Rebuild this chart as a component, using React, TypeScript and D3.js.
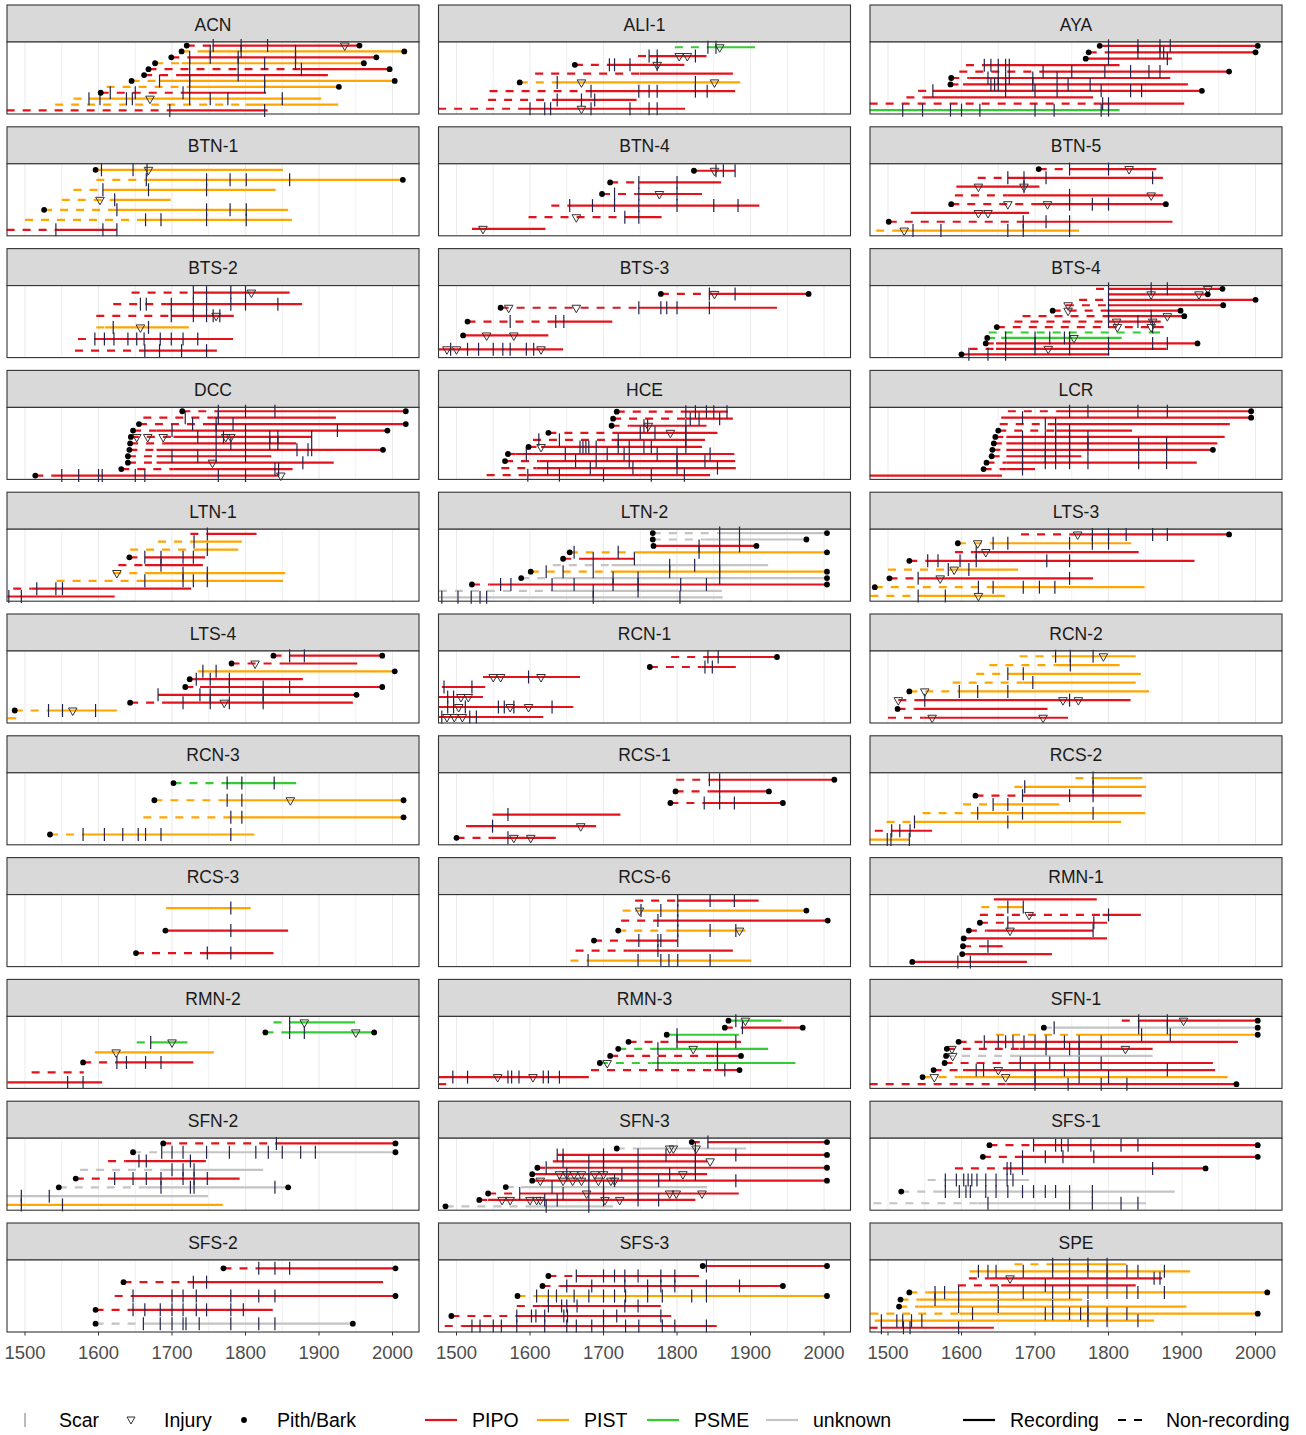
import * as d3 from "d3";

// row: [species, first, recStart, last, pith, bark, scars, injuries]
type Row = [string, number, number, number, number, number, number[], number[]];

const sites = ["ACN", "ALI-1", "AYA", "BTN-1", "BTN-4", "BTN-5", "BTS-2", "BTS-3", "BTS-4", "DCC", "HCE", "LCR",
    "LTN-1", "LTN-2", "LTS-3", "LTS-4", "RCN-1", "RCN-2", "RCN-3", "RCS-1", "RCS-2", "RCS-3", "RCS-6", "RMN-1",
    "RMN-2", "RMN-3", "SFN-1", "SFN-2", "SFN-3", "SFS-1", "SFS-2", "SFS-3", "SPE"];

const ACN: Row[] = [
    ["R", 1720, 1755, 1955, 1, 1, [1756, 1794, 1830], [1935]],
    ["O", 1713, 1738, 2016, 1, 1, [1752, 1794, 1868], []],
    ["R", 1699, 1724, 1978, 1, 1, [1724, 1752, 1790, 1868], []],
    ["O", 1677, 1713, 1961, 1, 1, [1724, 1790, 1826, 1868], []],
    ["R", 1668, 1876, 1996, 1, 1, [1876], []],
    ["R", 1662, 1711, 1912, 1, 0, [1724, 1790], []],
    ["O", 1645, 1683, 2003, 1, 1, [1683, 1724, 1826], []],
    ["O", 1611, 1720, 1927, 0, 1, [1724, 1826], []],
    ["R", 1603, 1715, 1828, 1, 0, [1616, 1650, 1715], []],
    ["O", 1566, 1587, 1903, 0, 0, [1587, 1602, 1638, 1646, 1724, 1752, 1776, 1850], [1670]],
    ["O", 1541, 1800, 1926, 0, 0, [], []],
    ["R", 1475, 1697, 1830, 0, 0, [1697, 1826], []],
];
const ALI1: Row[] = [
    ["G", 1797, 1842, 1906, 0, 0, [1842, 1853], [1858]],
    ["R", 1747, 1762, 1840, 0, 0, [1762, 1773, 1825], [1803, 1814]],
    ["R", 1661, 1708, 1810, 1, 0, [1708, 1715, 1736, 1773], [1773]],
    ["R", 1607, 1749, 1876, 0, 0, [], []],
    ["O", 1586, 1637, 1886, 1, 0, [1637, 1825], [1670, 1851]],
    ["R", 1545, 1683, 1879, 0, 0, [1683, 1748, 1762, 1773, 1825, 1841], []],
    ["R", 1543, 1637, 1745, 0, 0, [1637, 1670, 1688], []],
    ["R", 1475, 1593, 1811, 0, 0, [1600, 1620, 1628, 1683, 1736, 1762, 1773], [1670]],
];
const AYA: Row[] = [
    ["R", 1788, 1792, 2003, 1, 1, [1800, 1840, 1870, 1884], []],
    ["R", 1773, 1798, 2000, 1, 1, [1840, 1870, 1875], []],
    ["R", 1769, 1772, 1886, 1, 0, [1800, 1880], []],
    ["R", 1606, 1631, 1815, 0, 0, [1631, 1640, 1650, 1660, 1665], []],
    ["R", 1597, 1711, 1964, 0, 1, [1711, 1750, 1795, 1830, 1855, 1870], []],
    ["R", 1586, 1611, 1884, 1, 0, [1636, 1650, 1660, 1665, 1697, 1730], []],
    ["R", 1585, 1602, 1908, 1, 0, [1640, 1645, 1650, 1660, 1697, 1745, 1775], []],
    ["R", 1541, 1561, 1927, 0, 1, [1561, 1660, 1700, 1730, 1790, 1830, 1845], []],
    ["R", 1525, 1548, 1779, 0, 0, [], []],
    ["R", 1475, 1792, 1903, 0, 0, [1792, 1800], []],
    ["G", 1475, 1475, 1815, 0, 0, [1520, 1547, 1585, 1600, 1625, 1700, 1726, 1790, 1800], []],
];
const BTN1: Row[] = [
    ["O", 1596, 1596, 1851, 1, 0, [1604, 1647, 1666], [1668]],
    ["O", 1597, 1665, 2014, 0, 1, [1665, 1747, 1779, 1801, 1860], []],
    ["O", 1566, 1606, 1841, 0, 0, [1606, 1668, 1747], []],
    ["O", 1550, 1622, 1698, 0, 0, [1622], [1602]],
    ["O", 1526, 1625, 1858, 1, 0, [1625, 1747, 1779, 1801], []],
    ["O", 1500, 1664, 1863, 0, 0, [1664, 1685, 1747, 1801], []],
    ["R", 1475, 1542, 1625, 0, 0, [1542, 1606, 1625], []],
];
const BTN4: Row[] = [
    ["R", 1823, 1823, 1879, 1, 0, [1853, 1863, 1879], [1851]],
    ["R", 1709, 1748, 1860, 1, 0, [1748, 1800], []],
    ["R", 1698, 1745, 1834, 1, 0, [1715, 1748, 1800], [1776]],
    ["R", 1629, 1654, 1912, 0, 0, [1654, 1685, 1715, 1748, 1800, 1850, 1883], []],
    ["R", 1598, 1729, 1779, 0, 0, [1729, 1748], [1663]],
    ["R", 1521, 1521, 1621, 0, 0, [], [1536]],
];
const BTN5: Row[] = [
    ["R", 1705, 1747, 1865, 1, 0, [1747, 1800], [1828]],
    ["R", 1622, 1663, 1874, 0, 0, [1663, 1685, 1715, 1860], []],
    ["R", 1593, 1593, 1706, 0, 0, [1685], [1623, 1685]],
    ["R", 1591, 1663, 1874, 0, 0, [1747], [1858]],
    ["R", 1586, 1704, 1878, 1, 1, [1747, 1778, 1800], [1663, 1717]],
    ["R", 1531, 1531, 1692, 0, 0, [], [1623, 1636]],
    ["R", 1501, 1684, 1887, 1, 0, [1684, 1715, 1747], []],
    ["O", 1484, 1507, 1760, 0, 0, [1534, 1572, 1663, 1684, 1747], [1522]],
];
const BTS2: Row[] = [
    ["R", 1645, 1729, 1860, 0, 0, [1729, 1747, 1780, 1800], [1808]],
    ["R", 1620, 1692, 1877, 0, 0, [1657, 1665, 1699, 1729, 1747, 1780, 1800, 1844], []],
    ["R", 1597, 1699, 1784, 0, 0, [1699, 1729, 1747, 1756, 1765], [1760]],
    ["O", 1597, 1609, 1723, 0, 0, [1620, 1668], [1657]],
    ["R", 1572, 1595, 1783, 0, 0, [1595, 1608, 1621, 1640, 1652, 1662, 1684, 1699, 1715, 1735], []],
    ["R", 1568, 1663, 1761, 0, 0, [1663, 1683, 1713, 1747], []],
];
const BTS3: Row[] = [
    ["R", 1778, 1844, 1979, 1, 1, [1844, 1879], [1851]],
    ["R", 1560, 1748, 1936, 1, 0, [1748, 1778, 1786, 1800, 1844], [1571, 1663]],
    ["R", 1515, 1635, 1712, 1, 0, [1573, 1635, 1646], []],
    ["R", 1509, 1509, 1625, 1, 0, [], [1541, 1578]],
    ["R", 1475, 1475, 1645, 0, 0, [1492, 1515, 1530, 1550, 1563, 1573, 1595, 1605], [1487, 1500, 1615]],
];
const BTS4: Row[] = [
    ["R", 1783, 1800, 1955, 0, 1, [1800, 1858, 1880], [1935]],
    ["R", 1800, 1800, 1935, 0, 1, [], [1858, 1923]],
    ["R", 1760, 1800, 2000, 0, 1, [1800], []],
    ["R", 1742, 1800, 1956, 0, 1, [], [1745]],
    ["R", 1724, 1800, 1898, 1, 1, [1800], [1745]],
    ["R", 1683, 1800, 1903, 0, 1, [1800, 1858], [1880]],
    ["R", 1672, 1800, 1871, 0, 0, [1800, 1840], [1811, 1860]],
    ["R", 1648, 1860, 1875, 1, 0, [1860], [1812, 1858]],
    ["G", 1637, 1860, 1870, 0, 0, [], []],
    ["G", 1635, 1654, 1818, 1, 0, [1660, 1700, 1720, 1740, 1747], [1753]],
    ["R", 1633, 1647, 1921, 1, 1, [1660, 1700, 1747, 1800, 1860, 1880], []],
    ["R", 1611, 1647, 1879, 0, 0, [1700, 1747, 1800], [1718]],
    ["R", 1600, 1600, 1801, 1, 0, [1610, 1636, 1660], []],
];
const DCC: Row[] = [
    ["R", 1714, 1763, 2018, 1, 1, [1763, 1800, 1840], []],
    ["R", 1661, 1756, 1923, 0, 0, [1718, 1763], []],
    ["R", 1655, 1742, 2018, 1, 1, [1728, 1760, 1783], []],
    ["R", 1647, 1679, 1993, 1, 1, [1700, 1760, 1800, 1925], []],
    ["R", 1644, 1702, 1890, 1, 0, [1735, 1770, 1833, 1844, 1890], [1652, 1667, 1688, 1773, 1780]],
    ["R", 1643, 1688, 1869, 1, 0, [1760, 1780, 1800, 1833, 1844], []],
    ["R", 1642, 1679, 1987, 1, 1, [1870, 1885, 1890], []],
    ["R", 1640, 1679, 1835, 1, 0, [1700, 1735, 1760, 1800], []],
    ["R", 1640, 1679, 1920, 1, 0, [1878], [1755]],
    ["R", 1631, 1702, 1864, 1, 0, [1840, 1845], []],
    ["R", 1514, 1538, 1846, 1, 0, [1550, 1573, 1600, 1605, 1650, 1663, 1763, 1800], [1848]],
];
const HCE: Row[] = [
    ["R", 1718, 1812, 1869, 1, 0, [1812, 1825, 1840, 1850, 1868], []],
    ["R", 1713, 1812, 1876, 1, 0, [1818, 1830, 1858], []],
    ["R", 1711, 1735, 1840, 1, 0, [1755, 1760, 1812], [1761]],
    ["R", 1625, 1720, 1855, 1, 0, [1750, 1770, 1812], [1791]],
    ["R", 1604, 1711, 1838, 0, 0, [1612, 1640, 1720, 1812], []],
    ["R", 1598, 1615, 1834, 1, 0, [1668, 1672, 1676, 1680, 1690, 1720, 1735, 1755, 1765, 1812], [1615]],
    ["R", 1570, 1580, 1878, 1, 0, [1595, 1648, 1705, 1728, 1773, 1800, 1845], []],
    ["R", 1566, 1613, 1879, 1, 0, [1662, 1690, 1735, 1800, 1838], []],
    ["R", 1561, 1609, 1880, 0, 0, [1624, 1682, 1740, 1800, 1855], []],
    ["R", 1541, 1597, 1845, 0, 0, [1597, 1640, 1700, 1765, 1810], []],
];
const LCR: Row[] = [
    ["R", 1663, 1729, 1994, 0, 1, [1747, 1772, 1840, 1880], []],
    ["R", 1654, 1654, 1994, 0, 1, [1683], []],
    ["R", 1652, 1729, 1965, 0, 0, [1714, 1728], []],
    ["R", 1650, 1729, 1832, 1, 0, [1728, 1747], []],
    ["R", 1646, 1661, 1958, 1, 0, [1683, 1714, 1728, 1747, 1772], []],
    ["R", 1644, 1661, 1948, 1, 0, [1683, 1728, 1747, 1772, 1841, 1879], []],
    ["R", 1642, 1661, 1942, 1, 1, [1683, 1714, 1728, 1747, 1772, 1841, 1879], []],
    ["R", 1641, 1661, 1763, 1, 0, [1683, 1714, 1728, 1747], []],
    ["R", 1634, 1661, 1920, 1, 0, [1683, 1714, 1728, 1747, 1772, 1841, 1879], []],
    ["R", 1630, 1661, 1700, 1, 0, [1683], []],
    ["R", 1475, 1475, 1655, 0, 0, [], []],
];
const LTN1: Row[] = [
    ["R", 1725, 1748, 1815, 0, 0, [1748], []],
    ["O", 1681, 1730, 1795, 0, 0, [1730], []],
    ["O", 1643, 1729, 1790, 0, 0, [1748], []],
    ["R", 1642, 1663, 1745, 1, 0, [1663, 1685, 1715, 1729], []],
    ["R", 1627, 1663, 1742, 0, 0, [1685], []],
    ["O", 1620, 1663, 1854, 0, 0, [1715, 1748], [1625]],
    ["O", 1543, 1663, 1851, 0, 0, [1663, 1715, 1729, 1748], []],
    ["R", 1484, 1509, 1726, 0, 0, [1516, 1542, 1551], []],
    ["R", 1476, 1476, 1622, 0, 0, [1478, 1495], []],
];
const LTN2: Row[] = [
    ["U", 1767, 1858, 2004, 1, 1, [1858, 1885], []],
    ["U", 1767, 1837, 1976, 1, 1, [], []],
    ["R", 1768, 1768, 1908, 1, 1, [1830, 1858, 1885], []],
    ["O", 1654, 1747, 2004, 1, 1, [1660, 1720, 1830, 1858], []],
    ["R", 1645, 1672, 1742, 1, 0, [1686, 1742], []],
    ["U", 1631, 1711, 1924, 0, 0, [1790, 1824, 1858], []],
    ["O", 1601, 1713, 2004, 1, 1, [1622, 1645, 1686, 1790, 1858], []],
    ["U", 1588, 1634, 2004, 1, 1, [1713, 1747, 1858], []],
    ["R", 1521, 1545, 2004, 1, 1, [1560, 1574, 1630, 1660, 1713, 1747, 1805, 1840], []],
    ["U", 1476, 1634, 1861, 0, 0, [1686, 1747], []],
    ["U", 1476, 1476, 1862, 0, 0, [1480, 1502, 1520, 1532, 1541, 1686, 1804], []],
];
const LTS3: Row[] = [
    ["R", 1681, 1747, 1964, 0, 1, [1778, 1800, 1824, 1860, 1880], [1758]],
    ["O", 1595, 1643, 1831, 1, 0, [1643, 1663, 1747, 1778, 1800], [1622]],
    ["R", 1591, 1616, 1841, 0, 0, [1620], [1633]],
    ["R", 1529, 1554, 1917, 1, 0, [1554, 1568, 1598, 1620, 1716, 1747], []],
    ["O", 1500, 1582, 1677, 0, 0, [1582, 1610], [1590]],
    ["R", 1502, 1541, 1779, 1, 0, [1541, 1747], [1571]],
    ["O", 1482, 1643, 1849, 1, 0, [1623, 1643, 1684, 1706, 1727], []],
    ["O", 1476, 1541, 1659, 0, 0, [1541, 1578], [1623]],
];
const LTS4: Row[] = [
    ["R", 1838, 1860, 1986, 1, 1, [1860, 1880], []],
    ["R", 1781, 1851, 1952, 1, 0, [], [1813]],
    ["O", 1735, 1735, 2003, 0, 1, [1742, 1760], []],
    ["R", 1724, 1733, 1878, 1, 0, [1733, 1752, 1778], []],
    ["R", 1718, 1738, 1986, 1, 1, [1778, 1824, 1860], []],
    ["R", 1681, 1681, 1951, 0, 1, [1681, 1738, 1752, 1824], []],
    ["R", 1643, 1692, 1946, 1, 0, [1715, 1752, 1778, 1824], [1771]],
    ["O", 1486, 1532, 1625, 1, 0, [1532, 1551, 1596], [1565]],
    ["O", 1476, 1476, 1488, 0, 0, [], []],
];
const RCN1: Row[] = [
    ["R", 1792, 1842, 1936, 0, 1, [1842, 1856], []],
    ["R", 1763, 1833, 1880, 1, 0, [1838, 1848], []],
    ["R", 1536, 1536, 1668, 0, 0, [1598], [1550, 1560, 1615]],
    ["R", 1480, 1480, 1539, 0, 0, [1483, 1521], []],
    ["R", 1475, 1475, 1536, 0, 0, [1488, 1496], [1506, 1516]],
    ["R", 1475, 1475, 1659, 0, 0, [1488, 1496, 1512, 1557, 1565, 1578, 1630], [1503, 1573, 1598]],
    ["R", 1475, 1475, 1618, 0, 0, [1480, 1518, 1527], [1487, 1497, 1508]],
];
const RCN2: Row[] = [
    ["O", 1679, 1728, 1837, 0, 0, [1728, 1748, 1779], [1793]],
    ["O", 1638, 1728, 1815, 0, 0, [1748], []],
    ["O", 1620, 1663, 1844, 0, 0, [1663, 1684], []],
    ["O", 1588, 1683, 1837, 0, 0, [1697], []],
    ["O", 1529, 1597, 1855, 1, 0, [1597, 1622, 1663], [1550]],
    ["R", 1514, 1536, 1830, 0, 0, [1550, 1747], [1514, 1738, 1759]],
    ["R", 1513, 1536, 1717, 1, 0, [], []],
    ["R", 1500, 1548, 1745, 0, 0, [], [1560, 1711]],
];
const RCN3: Row[] = [
    ["G", 1702, 1773, 1869, 1, 0, [1775, 1795, 1839], []],
    ["O", 1676, 1773, 2015, 1, 1, [1775, 1795], [1861]],
    ["O", 1661, 1780, 2015, 0, 1, [1780, 1795], []],
    ["O", 1534, 1579, 1812, 1, 0, [1579, 1608, 1633, 1654, 1664, 1685, 1780], []],
];
const RCS1: Row[] = [
    ["R", 1799, 1844, 2014, 0, 1, [1844, 1858], []],
    ["R", 1798, 1844, 1925, 1, 1, [1858], []],
    ["R", 1791, 1837, 1944, 1, 1, [1837, 1858, 1878], []],
    ["R", 1549, 1549, 1723, 0, 0, [1570], []],
    ["R", 1513, 1513, 1690, 0, 0, [1549], [1669]],
    ["R", 1500, 1548, 1635, 1, 0, [1570], [1578, 1601]],
];
const RCS2: Row[] = [
    ["O", 1755, 1779, 1846, 0, 0, [1779], []],
    ["O", 1672, 1686, 1851, 0, 0, [1686, 1779], []],
    ["R", 1619, 1683, 1845, 1, 0, [1683, 1747, 1779], []],
    ["O", 1602, 1643, 1733, 0, 0, [1643, 1663], []],
    ["O", 1547, 1622, 1850, 0, 0, [1622, 1683, 1779], []],
    ["O", 1498, 1536, 1817, 0, 0, [1536, 1663], []],
    ["R", 1482, 1505, 1560, 0, 0, [1505, 1516, 1530], []],
    ["O", 1475, 1475, 1529, 0, 0, [1499, 1504, 1529], []],
];
const RCS3: Row[] = [
    ["O", 1692, 1692, 1807, 0, 0, [1780], []],
    ["R", 1691, 1691, 1858, 1, 0, [1780], []],
    ["R", 1651, 1748, 1838, 1, 0, [1748, 1780], []],
];
const RCS6: Row[] = [
    ["R", 1743, 1801, 1911, 0, 0, [1801, 1845, 1878], []],
    ["O", 1726, 1743, 1976, 0, 1, [1751, 1778, 1801], [1749]],
    ["R", 1724, 1774, 2005, 0, 1, [1774, 1801], []],
    ["O", 1720, 1792, 1893, 1, 0, [1801, 1845, 1880], [1885]],
    ["R", 1687, 1733, 1801, 1, 0, [1748, 1774, 1778, 1801], []],
    ["R", 1662, 1733, 1876, 0, 0, [1774], []],
    ["O", 1655, 1679, 1901, 0, 0, [1679, 1747, 1778, 1789, 1801, 1845], []],
];
const RMN1: Row[] = [
    ["R", 1644, 1644, 1784, 0, 0, [], []],
    ["O", 1627, 1651, 1684, 0, 0, [1663, 1684], []],
    ["R", 1625, 1792, 1844, 0, 0, [1800], [1692]],
    ["R", 1625, 1663, 1798, 1, 0, [1663, 1780], []],
    ["R", 1610, 1634, 1779, 1, 0, [1779], [1666]],
    ["R", 1603, 1603, 1798, 1, 0, [], []],
    ["R", 1602, 1634, 1656, 1, 0, [1636], []],
    ["R", 1601, 1601, 1723, 1, 0, [], []],
    ["R", 1533, 1533, 1689, 1, 0, [1595, 1612], []],
];
const RMN2: Row[] = [
    ["G", 1838, 1860, 1949, 0, 0, [1860], [1880]],
    ["G", 1827, 1851, 1975, 1, 1, [1860, 1880], [1950]],
    ["G", 1652, 1671, 1721, 0, 0, [1671], [1700]],
    ["O", 1595, 1595, 1757, 0, 0, [], [1624]],
    ["R", 1579, 1625, 1729, 1, 0, [1625, 1638, 1664, 1685], []],
    ["R", 1509, 1579, 1580, 0, 0, [], []],
    ["R", 1476, 1476, 1605, 0, 0, [1558, 1579], []],
];
const RMN3: Row[] = [
    ["G", 1870, 1870, 1942, 1, 0, [1880], [1893]],
    ["R", 1865, 1889, 1971, 1, 1, [1889], []],
    ["G", 1786, 1786, 1884, 1, 0, [1800], []],
    ["R", 1734, 1800, 1887, 1, 0, [1800, 1880], []],
    ["G", 1720, 1774, 1924, 1, 0, [1774, 1855], [1822]],
    ["R", 1709, 1851, 1887, 1, 1, [1855], []],
    ["G", 1695, 1765, 1961, 1, 0, [1774, 1855], [1705]],
    ["R", 1683, 1851, 1885, 0, 1, [1865], []],
    ["R", 1475, 1475, 1680, 0, 0, [1495, 1515, 1570, 1575, 1585, 1618, 1625, 1640], [1556, 1604]],
    ["R", 1475, 1475, 1486, 0, 0, [], []],
];
const SFN1: Row[] = [
    ["R", 1818, 1841, 2003, 0, 1, [1841, 1880], [1902]],
    ["U", 1712, 1726, 2003, 1, 1, [1726, 1841, 1880], []],
    ["O", 1647, 1760, 2003, 0, 1, [1845, 1884], []],
    ["R", 1596, 1631, 1976, 1, 0, [1631, 1650, 1660, 1670, 1685, 1700, 1715, 1740, 1760, 1790], []],
    ["R", 1580, 1679, 1860, 1, 0, [1715, 1747, 1760], [1587, 1823]],
    ["U", 1579, 1674, 1860, 1, 0, [], [1588]],
    ["R", 1577, 1670, 1942, 1, 0, [1680, 1720, 1760, 1790], []],
    ["R", 1562, 1602, 1945, 1, 0, [1620, 1630, 1700, 1740, 1880], [1650]],
    ["O", 1547, 1595, 1962, 1, 0, [1700, 1760, 1800], [1563, 1660]],
    ["R", 1475, 1661, 1974, 0, 1, [1700, 1745, 1790, 1825], []],
];
const SFN2: Row[] = [
    ["R", 1688, 1842, 2004, 1, 1, [1842], []],
    ["U", 1647, 1686, 2004, 1, 1, [1686, 1700, 1715, 1747, 1778, 1814, 1831, 1850, 1875, 1895], []],
    ["R", 1613, 1637, 1746, 0, 0, [1655, 1665, 1725], []],
    ["U", 1575, 1686, 1824, 0, 0, [1700, 1715, 1730], []],
    ["R", 1569, 1622, 1792, 1, 0, [1622, 1647, 1665, 1685, 1715, 1730, 1748], []],
    ["U", 1546, 1663, 1858, 1, 1, [1685, 1725, 1730, 1840], []],
    ["U", 1475, 1475, 1749, 0, 0, [1495, 1533], []],
    ["O", 1475, 1475, 1769, 0, 0, [1495, 1551], []],
];
const SFN3: Row[] = [
    ["R", 1820, 1842, 2004, 1, 1, [1842], []],
    ["U", 1718, 1747, 1894, 1, 0, [1825], [1790, 1795, 1826]],
    ["R", 1637, 1637, 2004, 0, 1, [1637, 1645, 1700, 1747, 1785, 1825, 1880], []],
    ["R", 1631, 1631, 1841, 0, 0, [1645, 1680, 1700, 1825], [1845]],
    ["R", 1610, 1622, 2004, 1, 1, [1622, 1700, 1747, 1825], []],
    ["R", 1603, 1603, 1841, 1, 0, [1650, 1680, 1725, 1790, 1825], [1640, 1650, 1660, 1670, 1688, 1700, 1808]],
    ["R", 1603, 1603, 2004, 1, 1, [1680, 1715, 1747, 1775, 1880], [1614, 1645, 1658, 1670, 1693, 1710, 1715]],
    ["U", 1567, 1588, 1841, 1, 0, [1630, 1700], []],
    ["R", 1543, 1586, 1884, 1, 0, [1586, 1645, 1680, 1700, 1747], [1677, 1790, 1799, 1834]],
    ["R", 1531, 1543, 1825, 1, 0, [1620, 1637, 1700, 1747, 1775], [1562, 1573, 1600, 1609, 1614, 1702, 1722]],
    ["U", 1485, 1600, 1713, 1, 0, [1622, 1680], []],
];
const SFS1: Row[] = [
    ["R", 1638, 1698, 2003, 1, 1, [1698, 1728, 1736, 1745, 1776, 1817, 1840], []],
    ["R", 1629, 1683, 2003, 1, 1, [1683, 1714, 1738, 1780], []],
    ["R", 1591, 1662, 1932, 0, 1, [1662, 1667, 1683, 1860], []],
    ["U", 1554, 1578, 1692, 0, 0, [1578, 1593, 1603, 1609, 1614, 1621, 1633, 1647, 1662, 1670], []],
    ["U", 1518, 1568, 1890, 1, 0, [1578, 1597, 1606, 1612, 1633, 1647, 1663, 1683, 1698, 1714, 1728, 1747, 1778], []],
    ["U", 1480, 1622, 1851, 0, 0, [1636, 1747, 1778, 1817, 1840], []],
];
const SFS2: Row[] = [
    ["R", 1770, 1818, 2004, 1, 1, [1818, 1840, 1860], []],
    ["R", 1634, 1729, 1987, 1, 0, [1729, 1747], []],
    ["R", 1622, 1647, 2004, 0, 1, [1647, 1700, 1715, 1733, 1780, 1818, 1840], []],
    ["R", 1596, 1643, 1837, 1, 0, [1647, 1663, 1684, 1700, 1715, 1733, 1747, 1780, 1797], []],
    ["U", 1596, 1661, 1946, 1, 1, [1661, 1684, 1700, 1715, 1719, 1737, 1780, 1818, 1840], []],
];
const SFS3: Row[] = [
    ["R", 1835, 1840, 2004, 1, 1, [1840], []],
    ["R", 1625, 1663, 1830, 1, 0, [1663, 1700, 1715, 1729, 1747, 1778, 1797], []],
    ["R", 1617, 1640, 1944, 1, 1, [1650, 1684, 1729, 1760, 1778, 1797, 1840, 1885], []],
    ["O", 1583, 1609, 2004, 1, 1, [1609, 1625, 1636, 1660, 1680, 1700, 1715, 1730, 1760, 1780, 1820, 1840], []],
    ["R", 1582, 1615, 1778, 0, 0, [1625, 1643, 1650, 1664, 1729, 1747], []],
    ["R", 1493, 1582, 1792, 1, 0, [1582, 1602, 1608, 1620, 1646, 1651, 1700, 1718, 1778], []],
    ["R", 1484, 1507, 1854, 0, 0, [1521, 1532, 1550, 1561, 1582, 1620, 1650, 1663, 1684, 1700, 1730, 1748, 1780, 1797, 1840], []],
];
const SPE: Row[] = [
    ["O", 1672, 1724, 1824, 0, 0, [1724, 1747, 1772, 1798], []],
    ["O", 1611, 1611, 1911, 0, 0, [1623, 1636, 1647, 1684, 1724, 1747, 1772, 1798, 1825, 1840, 1876], []],
    ["R", 1610, 1638, 1873, 0, 0, [1798, 1862, 1870], [1666]],
    ["R", 1595, 1654, 1837, 0, 0, [1714, 1747], []],
    ["O", 1529, 1554, 2016, 1, 1, [1564, 1577, 1596, 1650, 1684, 1724, 1747, 1772, 1798, 1825, 1840, 1876], []],
    ["O", 1517, 1543, 1764, 1, 0, [1564, 1596], []],
    ["O", 1515, 1543, 1906, 1, 0, [1596, 1650, 1724, 1772], []],
    ["O", 1476, 1597, 2003, 0, 1, [1615, 1714, 1724, 1747, 1762, 1772, 1798, 1825], []],
    ["O", 1482, 1482, 1862, 0, 0, [1491, 1512, 1520, 1532, 1546, 1772, 1798, 1840], []],
    ["R", 1475, 1491, 1644, 0, 0, [1491, 1521, 1530, 1596], []],
];

const seriesBySite: Record<string, Row[]> = {
    "ACN": ACN, "ALI-1": ALI1, "AYA": AYA, "BTN-1": BTN1, "BTN-4": BTN4, "BTN-5": BTN5, "BTS-2": BTS2,
    "BTS-3": BTS3, "BTS-4": BTS4, "DCC": DCC, "HCE": HCE, "LCR": LCR, "LTN-1": LTN1, "LTN-2": LTN2,
    "LTS-3": LTS3, "LTS-4": LTS4, "RCN-1": RCN1, "RCN-2": RCN2, "RCN-3": RCN3, "RCS-1": RCS1, "RCS-2": RCS2,
    "RCS-3": RCS3, "RCS-6": RCS6, "RMN-1": RMN1, "RMN-2": RMN2, "RMN-3": RMN3, "SFN-1": SFN1, "SFN-2": SFN2,
    "SFN-3": SFN3, "SFS-1": SFS1, "SFS-2": SFS2, "SFS-3": SFS3, "SPE": SPE,
};

const xTicks = [1500, 1600, 1700, 1800, 1900, 2000];
const gridYears = [1500, 1550, 1600, 1650, 1700, 1750, 1800, 1850, 1900, 1950, 2000];
const speciesColor: Record<string, string> = {R: "#E3121B", O: "#FFA500", G: "#33CC33", U: "#C4C4C4"};
const speciesLegend = [["R", "PIPO"], ["O", "PIST"], ["G", "PSME"], ["U", "unknown"]];

const FONT = "'Liberation Sans', Arial, sans-serif";
const colX = [7, 438.5, 870];
const panelW = 412;
const rowTop = 5;
const rowPitch = 121.8;
const stripH = 37;
const bodyH = 72;
const scarColor = "#23234a";

const x = d3.scaleLinear().domain([1475.5, 2036]).range([0, panelW]);

function Panel({site, idx}: {site: string; idx: number}) {
    const rows = seriesBySite[site];
    const col = idx % 3;
    const r = Math.floor(idx / 3);
    const y = d3.scalePoint<number>().domain(d3.range(rows.length)).range([stripH, stripH + bodyH]).padding(0.6);
    const lw = 2.2;
    return (
        <g transform={`translate(${colX[col]},${rowTop + r * rowPitch})`}>
            <rect x={0} y={0} width={panelW} height={stripH} fill="#d9d9d9" stroke="#333" strokeWidth={1.1} />
            <text x={panelW / 2} y={stripH / 2 + 7} textAnchor="middle" fontSize={17.5} fill="#1a1a1a" fontFamily={FONT}>{site}</text>
            <rect x={0} y={stripH} width={panelW} height={bodyH} fill="#fff" />
            {gridYears.map((g) => (
                <line key={g} x1={x(g)} x2={x(g)} y1={stripH} y2={stripH + bodyH} stroke="#ebebeb" strokeWidth={g % 100 === 0 ? 1.1 : 0.8} />
            ))}
            {rows.map((d, i) => {
                const yy = y(i)!;
                const c = speciesColor[d[0]];
                return (
                    <g key={"s" + i}>
                        {d[2] > d[1] && (
                            <line x1={x(d[1])} x2={x(d[2])} y1={yy} y2={yy} stroke={c} strokeWidth={lw} strokeDasharray="8,8" />
                        )}
                        {d[3] > d[2] && <line x1={x(d[2])} x2={x(d[3])} y1={yy} y2={yy} stroke={c} strokeWidth={lw} />}
                    </g>
                );
            })}
            {rows.map((d, i) => {
                const yy = y(i)!;
                return d[6].map((s, j) => (
                    <line key={"c" + i + "-" + j} x1={x(s)} x2={x(s)} y1={yy - 6.5} y2={yy + 6.5} stroke={scarColor} strokeWidth={1.2} />
                ));
            })}
            {rows.map((d, i) => {
                const yy = y(i)!;
                return d[7].map((s, j) => {
                    const cx = x(s);
                    return (
                        <path key={"j" + i + "-" + j} d={`M${cx - 4.3},${yy - 2.5}L${cx + 4.3},${yy - 2.5}L${cx},${yy + 5}Z`}
                            fill="none" stroke="#333" strokeWidth={1} />
                    );
                });
            })}
            {rows.map((d, i) => {
                const yy = y(i)!;
                return (
                    <g key={"p" + i}>
                        {d[4] === 1 && <circle cx={x(d[1])} cy={yy} r={2.9} fill="#000" />}
                        {d[5] === 1 && <circle cx={x(d[3])} cy={yy} r={2.9} fill="#000" />}
                    </g>
                );
            })}
            <rect x={0} y={stripH} width={panelW} height={bodyH} fill="none" stroke="#333" strokeWidth={1.1} />
            {r === 10 && xTicks.map((t) => (
                <g key={"t" + t}>
                    <line x1={x(t)} x2={x(t)} y1={stripH + bodyH} y2={stripH + bodyH + 3.5} stroke="#333" strokeWidth={1} />
                    <text x={x(t)} y={stripH + bodyH + 27} textAnchor="middle" fontSize={18.5} fill="#4d4d4d" fontFamily={FONT}>{t}</text>
                </g>
            ))}
        </g>
    );
}

function Legend() {
    const ly = 1420;
    const spX = [425, 537, 647, 766];
    return (
        <g fontFamily={FONT} fontSize={19.5} fill="#000">
            <line x1={25} x2={25} y1={ly - 7} y2={ly + 7} stroke="#777" strokeWidth={1} />
            <text x={59} y={ly + 7}>Scar</text>
            <path d={`M${127},${ly - 3}L${135},${ly - 3}L${131},${ly + 4}Z`} fill="none" stroke="#333" strokeWidth={1} />
            <text x={164} y={ly + 7}>Injury</text>
            <circle cx={244} cy={ly} r={2.9} fill="#000" />
            <text x={277} y={ly + 7}>Pith/Bark</text>
            {speciesLegend.map(([k, name], i) => (
                <g key={k}>
                    <line x1={spX[i]} x2={spX[i] + 32} y1={ly} y2={ly} stroke={speciesColor[k]} strokeWidth={2.2} />
                    <text x={spX[i] + 47} y={ly + 7}>{name}</text>
                </g>
            ))}
            <line x1={963} x2={995} y1={ly} y2={ly} stroke="#000" strokeWidth={2.2} />
            <text x={1010} y={ly + 7}>Recording</text>
            <line x1={1118} x2={1150} y1={ly} y2={ly} stroke="#000" strokeWidth={2.2} strokeDasharray="8,8" />
            <text x={1166} y={ly + 7}>Non-recording</text>
        </g>
    );
}

export default function App() {
    return (
        <svg width={1306} height={1435} style={{position: "absolute", left: 0, top: 0, background: "#fff"}}>
            <rect width={1306} height={1435} fill="#fff" />
            {sites.map((s, i) => <Panel key={s} site={s} idx={i} />)}
            <Legend />
        </svg>
    );
}
